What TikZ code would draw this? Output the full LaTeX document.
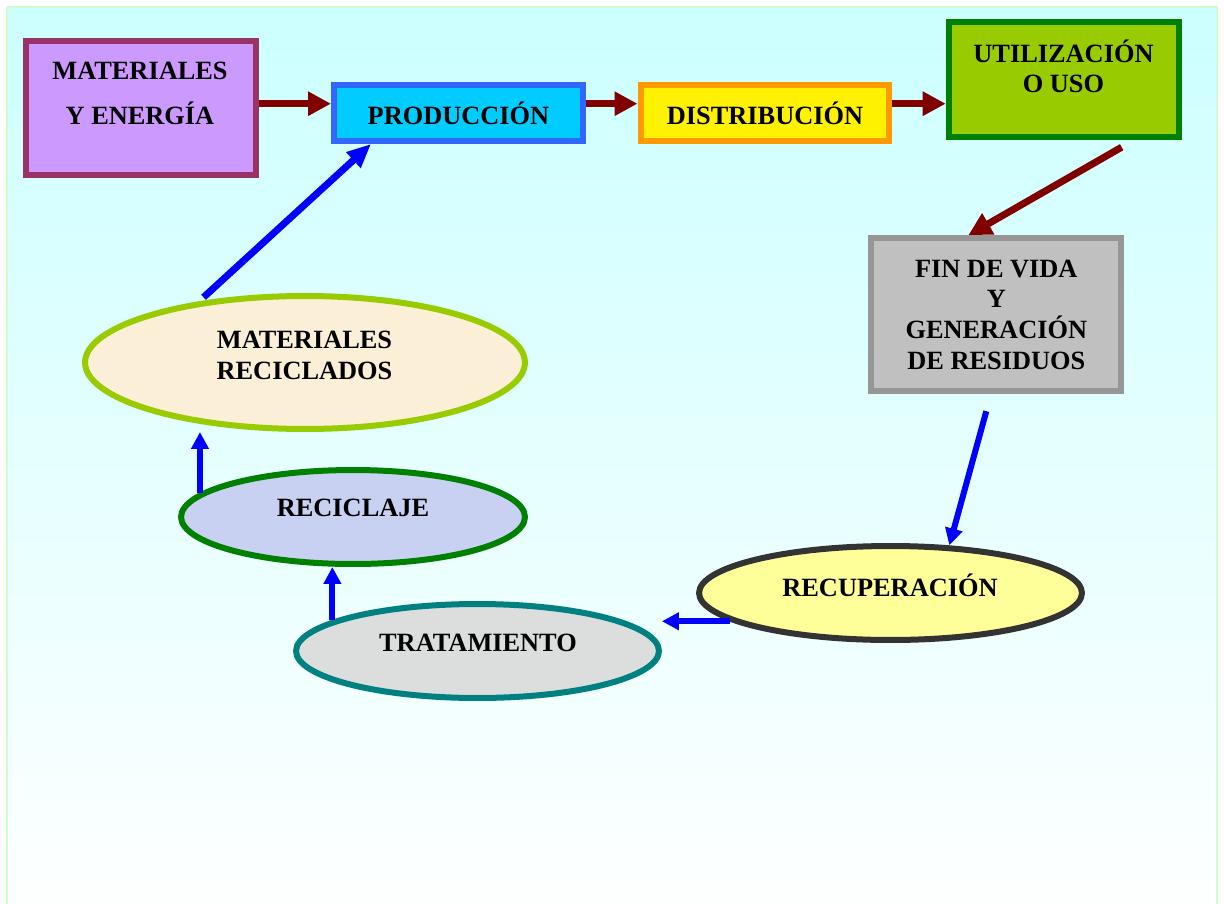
\documentclass[tikz,border=0pt]{standalone}
\usepackage{fontspec}
\setmainfont{Liberation Serif}
\usetikzlibrary{arrows.meta,calc,shapes.geometric}

\definecolor{bgtop}{HTML}{CCFFFF}
\definecolor{bgline}{HTML}{CCFFCC}
\definecolor{darkred}{HTML}{800000}
\definecolor{matfill}{HTML}{CC99FF}
\definecolor{matline}{HTML}{993366}
\definecolor{prodfill}{HTML}{00CCFF}
\definecolor{prodline}{HTML}{3366FF}
\definecolor{distline}{HTML}{FF9900}
\definecolor{usofill}{HTML}{99CC00}
\definecolor{usoline}{HTML}{008000}
\definecolor{finfill}{HTML}{C0C0C0}
\definecolor{finline}{HTML}{969696}
\definecolor{recfill}{HTML}{FCEFD7}
\definecolor{recjfill}{HTML}{C9D1F2}
\definecolor{tratfill}{HTML}{DCDEDE}
\definecolor{tratline}{HTML}{008080}
\definecolor{recufill}{HTML}{FFFF99}
\definecolor{reculine}{HTML}{333333}

\newcommand{\lblfont}{\fontsize{15}{17.5}\selectfont\bfseries}

\begin{document}
\begin{tikzpicture}[
    x=0.02cm, y=-0.02cm,
    box/.style={rectangle, line width=0.12cm, align=center, font=\lblfont},
    oval/.style={ellipse, line width=0.12cm},
    lbl/.style={align=center, font=\lblfont, inner sep=0pt},
    redarr/.style={draw=darkred, line width=0.14cm, -{Triangle[length=0.46cm,width=0.46cm]}},
    bluearr/.style={draw=blue, line width=0.12cm, -{Triangle[length=0.34cm,width=0.34cm]}}
]
\path[use as bounding box] (0,0) rectangle (1224,903);
\clip (0,0) rectangle (1224,903);
\shadedraw[top color=bgtop, bottom color=white, draw=bgline, line width=0.04cm] (7,7) rectangle (1217,930);

% top row
\node[box, fill=matfill, draw=matline, minimum width=4.6cm, minimum height=2.68cm] (mat) at (141.3,108.3) {};
\node[lbl] (matT) at (140,93.5) {MATERIALES\\[8.5pt]Y ENERGÍA};
\node[box, fill=prodfill, draw=prodline, minimum width=4.98cm, minimum height=1.12cm] (prod) at (458.5,113) {PRODUCCIÓN};
\node[box, fill=yellow, draw=distline, minimum width=4.98cm, minimum height=1.12cm] (dist) at (765,113) {DISTRIBUCIÓN};
\node[box, fill=usofill, draw=usoline, minimum width=4.6cm, minimum height=2.3cm] (uso) at (1063.7,79.7) {};
\node[lbl] (usoT) at (1063.5,66.4) {UTILIZACIÓN\\O USO};
\node[box, fill=finfill, draw=finline, minimum width=5cm, minimum height=3.06cm] (fin) at (996.3,314.7)
    {FIN DE VIDA\\Y\\GENERACIÓN\\DE RESIDUOS};

% recycling loop
\node[oval, fill=recfill, draw=usofill, minimum width=8.8cm, minimum height=2.66cm] (rec) at (305,362.5) {};
\node[lbl] (recT) at (304.5,355.7) {MATERIALES\\RECICLADOS};
\node[oval, fill=recjfill, draw=usoline, minimum width=6.88cm, minimum height=1.88cm] (recj) at (353,517) {};
\node[lbl] (recjT) at (353,508) {RECICLAJE};
\node[oval, fill=tratfill, draw=tratline, minimum width=7.26cm, minimum height=1.88cm] (trat) at (477.5,651) {};
\node[lbl] (tratT) at (478,642.5) {TRATAMIENTO};
\node[oval, fill=recufill, draw=reculine, minimum width=7.66cm, minimum height=1.88cm] (recu) at (890.5,593) {};
\node[lbl] (recuT) at (890,585) {RECUPERACIÓN};

% arrows
\coordinate (row) at (0,103.7);
\draw[redarr] (mat.east |- row) -- (prod.west |- row);
\draw[redarr] (prod.east |- row) -- (dist.west |- row);
\draw[redarr] (dist.east |- row) -- (uso.west |- row);
\draw[redarr] ($(uso.south east)+(-60,7)$) -- ($(fin.north west)+(100,0)$);
\draw[bluearr] ($(fin.south)+(-10,17)$) -- (recu.39);
\draw[bluearr] (recu.190) -- (recu.190 -| trat.east);
\draw[bluearr] (trat.168) -- (trat.168 |- recj.south);
\draw[bluearr] (recj.171) -- (recj.171 |- rec.south);
\draw[bluearr, line width=0.14cm, -{Triangle[length=0.48cm,width=0.4cm]}, shorten <=0.12cm]
    (rec.150) -- ($(prod.south west)+(40,0)$);
\end{tikzpicture}
\end{document}
